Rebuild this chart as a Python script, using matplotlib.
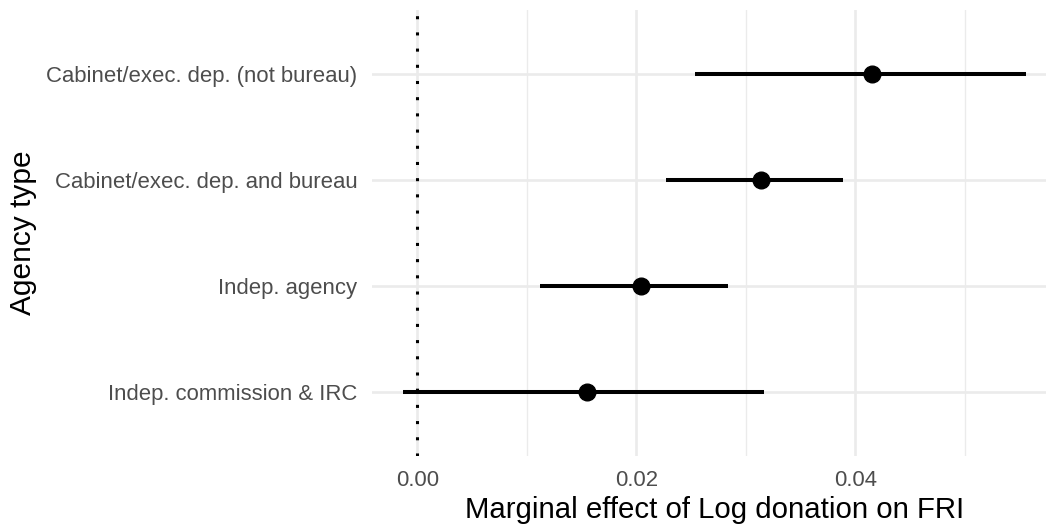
import matplotlib.pyplot as plt

# Marginal effect estimates with confidence intervals, by agency type
agency_types = [
    'Cabinet/exec. dep. (not bureau)',
    'Cabinet/exec. dep. and bureau',
    'Indep. agency',
    'Indep. commission & IRC',
]
estimate = [0.0415, 0.0314, 0.0204, 0.0155]
ci_low = [0.0254, 0.0227, 0.0112, -0.0013]
ci_high = [0.0556, 0.0389, 0.0284, 0.0317]

plt.rcParams['font.family'] = ['Liberation Sans', 'DejaVu Sans']

fig = plt.figure(figsize=(10.46, 5.28), dpi=100)
ax = fig.add_axes([0.3556, 0.1364, 0.655, 0.8447])

# first category sits at the top
ypos = list(range(len(agency_types), 0, -1))

# grid in the style of theme_minimal
for x in [0.0, 0.02, 0.04]:
    ax.axvline(x, color='#EBEBEB', lw=1.9, zorder=0)
for x in [0.01, 0.03, 0.05]:
    ax.axvline(x, color='#EBEBEB', lw=1.0, zorder=0)
for y in ypos:
    ax.axhline(y, color='#EBEBEB', lw=1.9, zorder=0)

ax.axvline(0, color='black', lw=2.2, linestyle=(0, (1, 4.3)),
           dash_capstyle='butt', zorder=1)

ax.hlines(ypos, ci_low, ci_high, color='black', lw=2.9, zorder=2)
ax.plot(estimate, ypos, 'o', color='black', ms=12, zorder=3)

ax.set_xlim(-0.00415, 0.05845)
ax.set_ylim(0.4, len(agency_types) + 0.6)
ax.set_xticks([0.0, 0.02, 0.04])
ax.set_xticklabels(['0.00', '0.02', '0.04'])
ax.set_yticks(ypos)
ax.set_yticklabels(agency_types)
ax.tick_params(axis='both', length=0, labelsize=15.9, labelcolor='#4D4D4D')
ax.tick_params(axis='y', pad=10.6)
ax.tick_params(axis='x', pad=10)

for s in ax.spines.values():
    s.set_visible(False)

ax.set_xlabel('Marginal effect of Log donation on FRI', fontsize=21.2, labelpad=3.5)
ax.set_ylabel('Agency type', fontsize=21.5, labelpad=6.5)

fig.savefig('out.png', dpi=100)
